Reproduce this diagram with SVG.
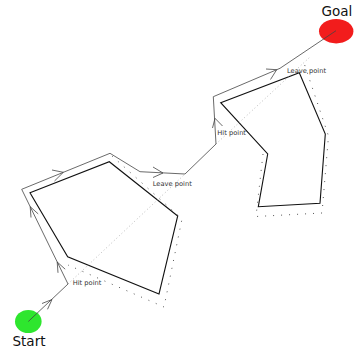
<svg xmlns="http://www.w3.org/2000/svg" width="356" height="355" viewBox="0 0 356 355">
<style>
.path{fill:none;stroke:#444;stroke-width:0.8}
.arr{fill:none;stroke:#444;stroke-width:0.8}
.obs{fill:none;stroke:#111;stroke-width:1.1}
.dots{fill:none;stroke:#444;stroke-width:0.9;stroke-dasharray:1 7}
.mline{fill:none;stroke:#aaa;stroke-width:0.8;stroke-dasharray:1 2.5}
.lbl{font-family:"DejaVu Sans",sans-serif;font-size:6.7px;fill:#333}
.big{font-family:"DejaVu Sans",sans-serif;font-size:13.5px;fill:#111}
</style>
<rect width="356" height="355" fill="#fff"/>
<g id="obstacle1">
<polygon class="obs" points="30,192.7 109.3,161.7 177.7,216 159,294 67.7,256.7"/>
</g>
<g id="obstacle2">
<polygon class="obs" points="220.7,102.7 299.3,72.7 325.3,134 320,203.3 258.3,206.7 267.7,154"/>
</g>
<g id="start">
<ellipse cx="28.3" cy="321.5" rx="13.3" ry="11.5" fill="#2ee62e"/>
<text class="big" x="12.5" y="346">Start</text>
</g>
<g id="goal">
<ellipse cx="336.2" cy="31.2" rx="17.2" ry="12.2" fill="#f21c1c"/>
<text class="big" x="321.5" y="15.5">Goal</text>
</g>
<g id="connectors">
<path class="mline" d="M68,284 L185,174"/>
<path class="mline" d="M216,144 L310,57"/>
<path class="dots" d="M112,156 L182,219 L164,307 L68,265"/>
<path class="dots" d="M263,154 L256,216.5 L322,213 L328.5,136 L303,60"/>
<path class="path" d="M28.3,321.5 L68,284 L21.7,189.3 L110,153.3 L140,171.7 L185,174 L216,144 L213.3,96.7 L280,68.3 L336,30.7"/>
<path class="arr" d="M47.5,309.3 L52,299.5 L42,303.5"/>
<path class="arr" d="M65.2,269.2 L57.2,262 L58,272.8"/>
<path class="arr" d="M38.2,213.9 L30.2,206.7 L31,217.5"/>
<path class="arr" d="M52,170 L63.3,172.3 L54.5,181"/>
<path class="arr" d="M153,167 L163,173 L153,177.5"/>
<path class="arr" d="M222.5,126 L215,118.3 L212.5,128"/>
<path class="arr" d="M266,69 L276.7,69.7 L270.5,79.5"/>
</g>
<g id="labels">
<text class="lbl" x="72.7" y="285">Hit point</text>
<text class="lbl" x="152.7" y="186">Leave point</text>
<text class="lbl" x="217.3" y="134.5">Hit point</text>
<text class="lbl" x="287" y="72.7">Leave point</text>
</g>
</svg>
